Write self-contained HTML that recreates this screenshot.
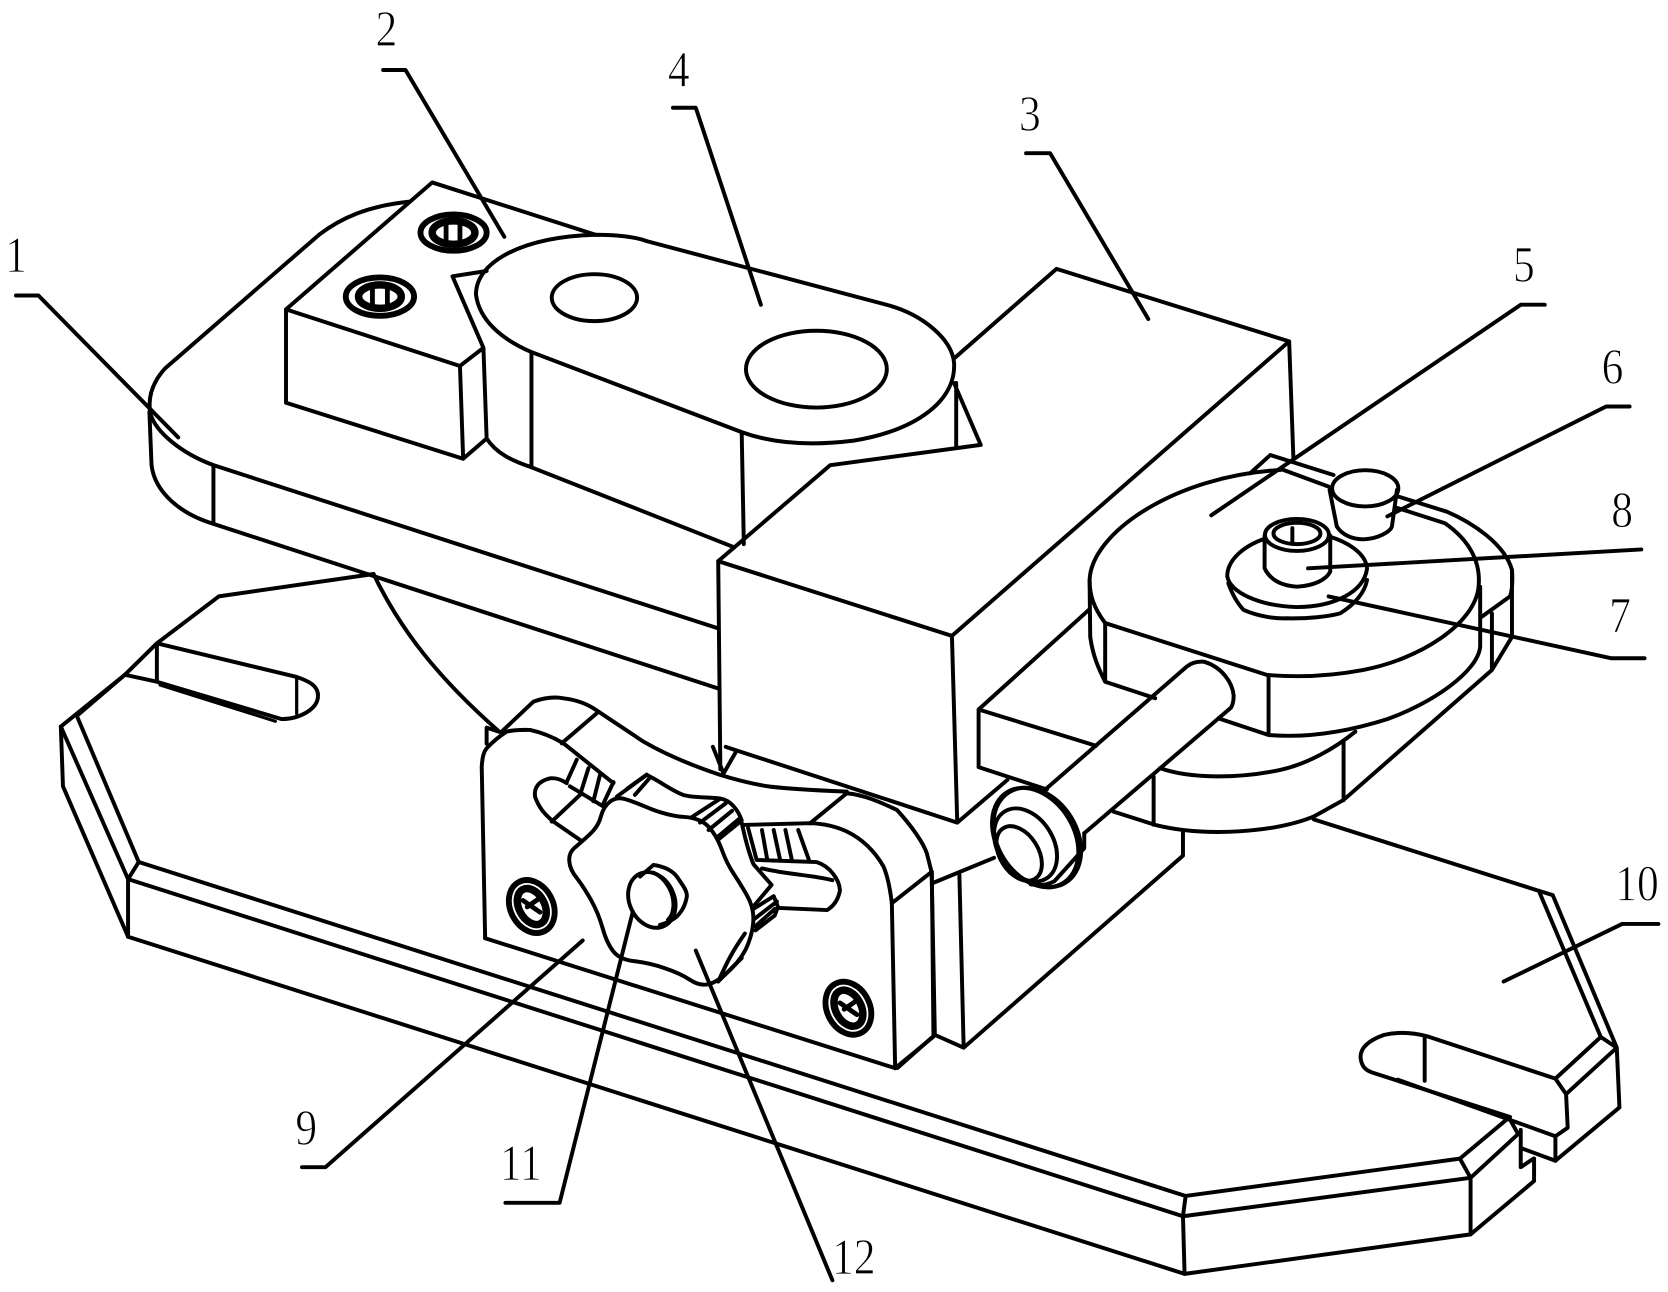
<!DOCTYPE html>
<html><head><meta charset="utf-8"><style>
html,body{margin:0;padding:0;background:#fff}
svg{display:block}
path,ellipse{fill:none;stroke:#000;stroke-width:3.7;stroke-linejoin:round;stroke-linecap:round}
path.t{stroke-width:3}
ellipse.b{stroke-width:5.5}
ellipse.c{stroke-width:7}
path.d{stroke-width:4.5}
text{font-family:"Liberation Serif",serif;font-size:48px;fill:#000;text-anchor:middle;stroke:#fff;stroke-width:.8}
</style></head><body>
<svg width="1668" height="1292" viewBox="0 0 1563 1211" preserveAspectRatio="none" xmlns="http://www.w3.org/2000/svg">
<!-- base plate 10 -->
<path d="M350 538L205 559L147 603L117 632.5L57 681L59 737L120 878L1110 1194L1378 1157L1437.5 1107V1086"/>
<path d="M117 632.5L147 639L264 674C280 674 298 665 298 652C298 642 288 638 278 634.5L147 603V639"/>
<path class="t" d="M150 642L258 676M278 636V669"/>
<path d="M57 681L120 824V878M72 671L130 808L120 824M117 632.5L72 671"/>
<path d="M130 808L1111 1121L1368 1086L1414 1047.5L1422.5 1063L1378 1104L1108.5 1140L120 824"/>
<path d="M1111 1121L1108.5 1140L1110 1194M1378 1104V1157M1368 1086L1378 1104"/>
<path d="M1425 1059V1094L1437 1086M1425 1076L1457.5 1088L1517.5 1038L1515 982L1467.5 1025.5L1457.5 1011L1500 972L1515 982L1455 839L1442 835L1231 768"/>
<path d="M1500 972L1442 835M1467.5 1025.5L1469 1057L1457.5 1065V1088M1457.5 1011L1338 971.5C1325 968 1310 967 1297 970C1283 975 1274 982 1275 992C1276 1000 1280 1003 1285 1005L1415 1047"/>
<path d="M1310 1012L1457.5 1065M1335 972V1013"/>
<!-- top plate 1 -->
<path d="M384 189C345 193 320 204 299 220L155 345C143 358 138 372 141 388C146 405 170 425 200 436L673 589"/>
<path d="M140 386L142 436C145 462 170 482 200 491L672 645M200 436V491"/>
<!-- block 2 -->
<path d="M558 220L405 171L268 290L431 343L453 326L424 259L456 254M268 290V377.5L434 430L431 343M434 430L456 411L453 326M456 411C465 425 480 432 498 438L688 513"/>
<!-- screws top -->
<ellipse cx="425" cy="218" rx="31" ry="17" class="b"/><ellipse cx="425" cy="218" rx="20" ry="11" class="c"/><path class="d" d="M418 211V226M431 210V226"/>
<ellipse cx="356" cy="278" rx="32" ry="18" class="b"/><ellipse cx="356" cy="278" rx="20" ry="11" class="c"/><path class="d" d="M349 271V286M363 270V286"/>
<!-- part 4 -->
<path d="M498 330C470 318 449 300 446 276C446 245 490 222 558 220C580 220 595 222 606 226L832 286C865 295 892 318 894 340C896 375 860 403 800 413C760 418 725 416 695 405L498 330V438M695 405L697 510"/>
<ellipse cx="557" cy="279" rx="40" ry="22"/>
<ellipse cx="765" cy="346" rx="66" ry="36"/>
<!-- block 3 -->
<path d="M894 336L990 252L1208 320L892 596L673 526L778 436L919 417L894 359M896 359V419M1208 320L1212 430"/>
<path d="M673 526L675 721M892 596L897 771L680 700M668 700L678 725L690 704M897 771L944 731"/>
<!-- slider -->
<path d="M917 719V665L1021 571M917 665L1027 699M917 719L981 740"/>
<path d="M903 982L1108.5 802V779M899 820L903 982L876 970L841 1001M873 818L876 970"/>
<!-- back plate behind disk -->
<path d="M1171.5 443.6L1190.3 426.5L1249.6 445.2M1202.8 440.5L1245 456.1"/>
<path d="M1310.5 465.5L1355.8 479.6C1380 490 1410 510 1416.8 534.2C1418 550 1416 556 1415 559L1388.6 578M1416.8 534V597L1398 628M1398 575V628L1259 749.8L1230.9 765.4C1195 780 1130 785 1082.5 773.2L1043.4 760.7"/>
<path d="M1087 720C1115 730 1160 730 1199.6 721.7C1225 716 1250 702 1270 685.8M1259 695V750M1081 728V773"/>
<!-- disk 5 -->
<path d="M1035.6 584C1025 570 1021 558 1021 544C1022 500 1100 446 1200 440.5"/>
<path d="M1309 476L1354 490.5C1375 505 1388 525 1385.5 550C1382 585 1330 618 1277 628C1245 634 1215 635 1187 632.6L1035.6 584"/>
<path d="M1021 544L1021.6 597C1024 615 1030 628 1035.6 639V584M1035.6 639L1082.5 654.5M1141.8 673.3L1188.7 688.9V632.6M1188.7 688.9C1225 692 1262 686 1300 674C1340 660 1385 630 1387 606V550"/>
<!-- washer + screw -->
<path d="M1185 505C1165 512 1150 525 1150 540C1152 555 1180 568 1215 569C1250 569 1278 555 1281 533C1280 518 1262 508 1246 503"/>
<path d="M1151 546.7C1155 558 1160 566 1165.3 571.7C1180 578 1195 580 1206 579.5C1225 580 1245 578 1256 574.8C1270 566 1279 555 1281 543.6"/>
<ellipse cx="1215.3" cy="501.4" rx="30" ry="15"/><ellipse cx="1215.3" cy="500" rx="22" ry="10"/>
<path d="M1185 502V532.7C1190 543 1200 549 1215.3 549.9C1232 549 1243 543 1246.5 535.8V502M1211 495V508"/>
<!-- pin 6 -->
<ellipse cx="1279.3" cy="457.7" rx="31" ry="17"/>
<path d="M1245.9 459.3L1252.7 493.6C1258 502 1268 505.5 1277.7 505.5C1292 505 1303 498 1304.3 493.6L1309 459.3"/>
<!-- rod -->
<path d="M981 738.7L1112 624.8C1118 620 1125 620 1128 620.2C1145 625 1155 640 1156 652C1156 657 1155 661 1153.4 663.4L1016 781"/>
<ellipse cx="970" cy="785" rx="36" ry="50" transform="rotate(-32 970 785)"/>
<ellipse cx="972" cy="785" rx="37" ry="50" transform="rotate(-32 972 785)"/>
<ellipse cx="961" cy="792" rx="26" ry="37" transform="rotate(-32 961 792)"/>
<ellipse cx="955" cy="800" rx="18" ry="28" transform="rotate(-32 955 800)"/>
<path d="M1016 781V795L988 826C980 830 975 830 966 829M874.7 827.4L931.5 804"/>
<!-- bracket 9 -->
<path d="M350 538C375 590 410 635 468 686L456 682V697"/>
<path d="M454.6 879.4L451.4 718.5C452 710 453 705 456.1 701.3C462 695 468 690 474.9 685.7C482 684 490 684 496.7 684.2C510 687 520 692 528 696.7L574.8 734.1"/>
<path d="M454.6 879.4L838.8 1001.2L835.7 846.6C834 832 832 822 827.9 812.2C818 795 805 785 793.5 779.4C782 774 770 772 759.2 771.6L696.7 773.2"/>
<path d="M759.2 771.6L793.5 743.5C810 745 825 752 840.4 759.1C855 775 865 790 868.5 799.8L873.2 818.5L874.7 971.6L838.8 1001.2M835.7 846.6L873.2 817"/>
<path d="M470.2 685.7L499.9 657.6C510 654 520 653 528 654.5C540 656 550 660 556.1 663.9L602.9 695.1C625 708 650 718 674.8 726.3C690 731 705 735 721.7 737.3C745 740 770 741 793.5 742M559.2 668.5L526.4 696.7"/>
<!-- left slot -->
<path d="M531 734C525 730 520 729 515.5 729.5C505 732 500 738 501.4 747C505 757 510 763 518.6 770.1L543.6 787.3M517 770L543.6 745"/>
<path d="M540.5 712L531 733M551.4 720L543.6 745M562.3 726L556 751M574.8 733L565.5 753M534 737L565.5 756"/>
<!-- right slot -->
<path d="M701 776L709 806M714 778L719 806M725 778L731 806M736 778L742 806M748 778L758 806M709 806L765 808C778 812 787 825 787 835C785 845 780 850 775 853L730 851M714 814C740 820 760 820 780 825"/>
<!-- knob -->
<path d="M538 795Q532.7 799.8 533.5 807.6Q534.2 815.4 540.5 823Q546.7 831 553.8 843.5Q560.8 856 564.7 870Q568.6 884.1 574.9 892Q581.1 899.7 595 901Q609.2 902.8 623 907.5Q637.3 912.2 646.7 918.5Q656.1 924.7 664.6 922.3Q673.2 920 685 908.3Q696.7 896.6 701.3 884Q706 871.6 706 860.7Q706 849.7 699.7 838.8Q693.5 827.9 687.2 818.5Q681 809.1 677 798Q673.2 787.3 667.7 779.5Q662.3 771.6 655 768.8Q648.2 766 641 765.7Q634.2 765.4 624.8 763Q615.4 760.7 604.5 756Q593.6 751.3 585.8 749Q578 746.6 571.7 751.3Q565.5 756 563 765.4Q560.8 774.8 552 782.6Q543.6 790.4 538 795Z"/>
<path d="M578 746.6L606 726.3L612 729.5C622 735 630 741 640 745C650 748 665 747 675 748.5C685 750 692 760 695 769L673 787M648 766L675 748.5M656 771L680 753M664 778L686 760M673 784L692 768"/>
<path d="M695 771C699 790 702 800 706 810L723 829.4L706 849.7M706 852L725 840L729 850L726 858L708 872M706 862L728 845M708 868L726 852"/>
<path d="M673 920C680 905 684 895 698 875M673 920L695 898"/>
<path d="M588 739L606 726M595 745L609 729"/>
<!-- cap -->
<ellipse cx="610.8" cy="843.5" rx="21" ry="27" transform="rotate(-25 610.8 843.5)"/>
<path d="M599.8 821.6L612.3 810.7C622 812 630 816 634.2 821.6C640 830 644 835 643.6 840.4C642 850 638 855 634.2 859.1C628 864 622 866 618.5 866.9"/>
<path d="M612.3 818C622 822 632 835 631 850C630 858 628 860 626 862"/>
<!-- screws bracket -->
<ellipse cx="498.3" cy="849.7" rx="20" ry="26" transform="rotate(-28 498.3 849.7)" class="b"/>
<ellipse cx="498.3" cy="849.7" rx="12" ry="18" transform="rotate(-28 498.3 849.7)" class="c"/>
<path class="d" d="M490 844L506 855M494 850L504 843"/>
<ellipse cx="795" cy="945" rx="20" ry="26" transform="rotate(-28 795 945)" class="b"/>
<ellipse cx="795" cy="945" rx="12" ry="18" transform="rotate(-28 795 945)" class="c"/>
<path class="d" d="M787 940L803 951M791 946L801 939"/>
<!-- leader lines -->
<path d="M15 277H36L167 410M359 65.6H380L472.6 222M630.6 101H652L713 285.6M961.5 143.6H984L1076 299M1447.5 285.6H1425L1135 483M1527 381H1505L1300 484"/>
<path d="M1538 515L1225.7 532.7M1245 559L1510 617H1541M1554 866H1520L1409 920M283 1094H305L546 881.5M473.6 1127.4H524.4L593 854.5M652 891L780 1200"/>
<!-- labels -->
<text transform="translate(15 255) scale(.85 1)">1</text>
<text transform="translate(362 43) scale(.85 1)">2</text>
<text transform="translate(965 123) scale(.85 1)">3</text>
<text transform="translate(636 81) scale(.85 1)">4</text>
<text transform="translate(1428 264) scale(.85 1)">5</text>
<text transform="translate(1511 360) scale(.85 1)">6</text>
<text transform="translate(1518 593) scale(.85 1)">7</text>
<text transform="translate(1520 494) scale(.85 1)">8</text>
<text transform="translate(287 1073) scale(.85 1)">9</text>
<text transform="translate(1534 844) scale(.85 1)">10</text>
<text transform="translate(488 1106) scale(.85 1)">11</text>
<text transform="translate(800 1194) scale(.85 1)">12</text>
</svg>
</body></html>
